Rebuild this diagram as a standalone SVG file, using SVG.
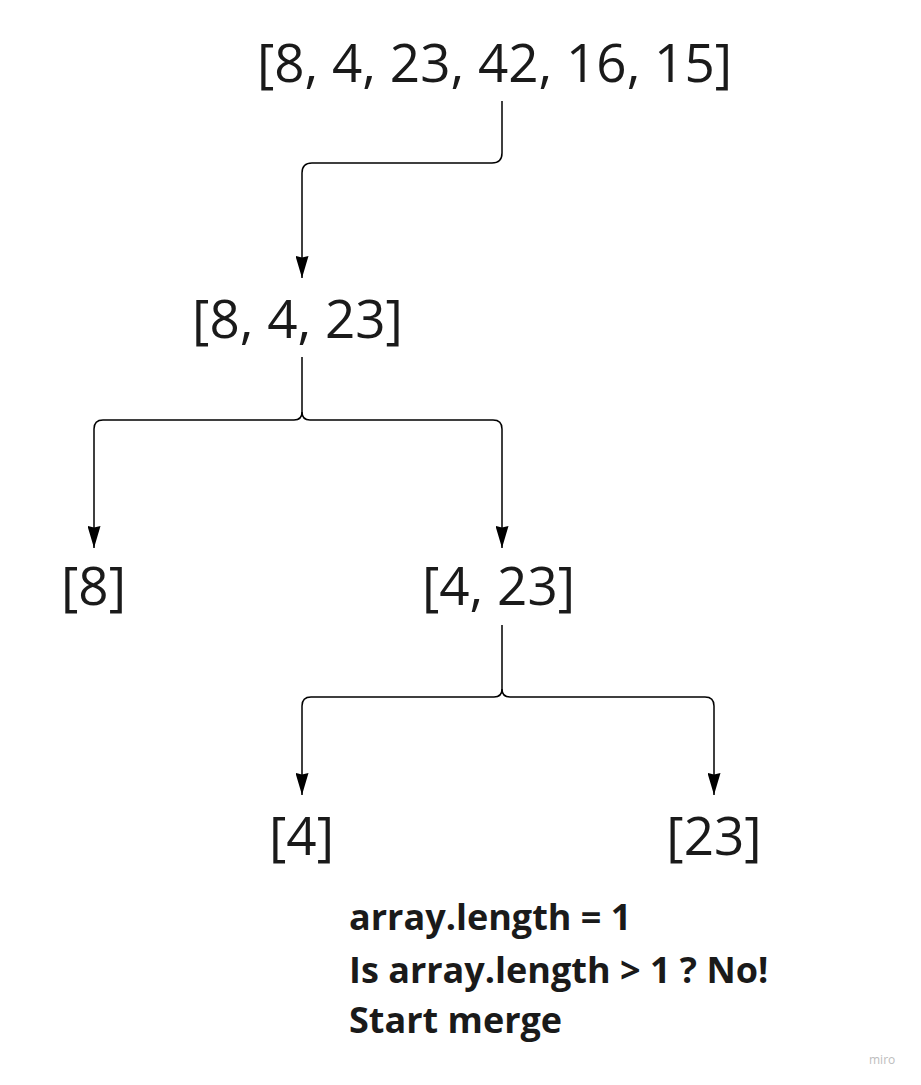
<svg xmlns="http://www.w3.org/2000/svg" width="921" height="1085" viewBox="0 0 921 1085">
<defs>
<marker id="arr" markerWidth="22" markerHeight="13" refX="22" refY="6.5" orient="auto" markerUnits="userSpaceOnUse" viewBox="0 0 22 13">
<path d="M0,0 L22,6.5 L0,13 L1.5,6.5 Z" fill="#000"/>
</marker>
<style>
.node{font-family:"Open Sans","Noto Sans","Liberation Sans",sans-serif;font-size:53px;fill:#1a1a1a;text-anchor:middle}
.note{font-family:"Open Sans","Noto Sans","Liberation Sans",sans-serif;font-size:36px;font-weight:bold;fill:#1a1a1a}
.wm{font-family:"Open Sans","Noto Sans","Liberation Sans",sans-serif;font-size:12px;fill:#bdbdbd}
.conn{fill:none;stroke:#000;stroke-width:1.5}
</style>
</defs>
<rect width="921" height="1085" fill="#fff"/>
<g id="connectors">
<path class="conn" d="M502,101 V153 Q502,163 492,163 H312 Q302,163 302,173 V278" marker-end="url(#arr)"/>
<path class="conn" d="M302,357 V412 Q302,420 294,420 H103 Q94,420 94,429 V548" marker-end="url(#arr)"/>
<path class="conn" d="M302,412 Q302,420 310,420 H493 Q502,420 502,429 V548" marker-end="url(#arr)"/>
<path class="conn" d="M502,625 V689 Q502,697 494,697 H311 Q302,697 302,706 V795" marker-end="url(#arr)"/>
<path class="conn" d="M502,689 Q502,697 510,697 H705 Q714,697 714,706 V795" marker-end="url(#arr)"/>
</g>
<g id="n-root"><text class="node" x="494.5" y="82">[8, 4, 23, 42, 16, 15]</text></g>
<g id="n-left"><text class="node" x="297.5" y="338">[8, 4, 23]</text></g>
<g id="n-8"><text class="node" x="93.5" y="605">[8]</text></g>
<g id="n-4-23"><text class="node" x="498.5" y="605">[4, 23]</text></g>
<g id="n-4"><text class="node" x="301.5" y="855">[4]</text></g>
<g id="n-23"><text class="node" x="714" y="855">[23]</text></g>
<g id="note">
<text class="note" x="349" y="930">array.length = 1</text>
<text class="note" x="349" y="983">Is array.length &gt; 1 ? No!</text>
<text class="note" x="349" y="1033">Start merge</text>
</g>
<text class="wm" x="869" y="1064">miro</text>
</svg>
